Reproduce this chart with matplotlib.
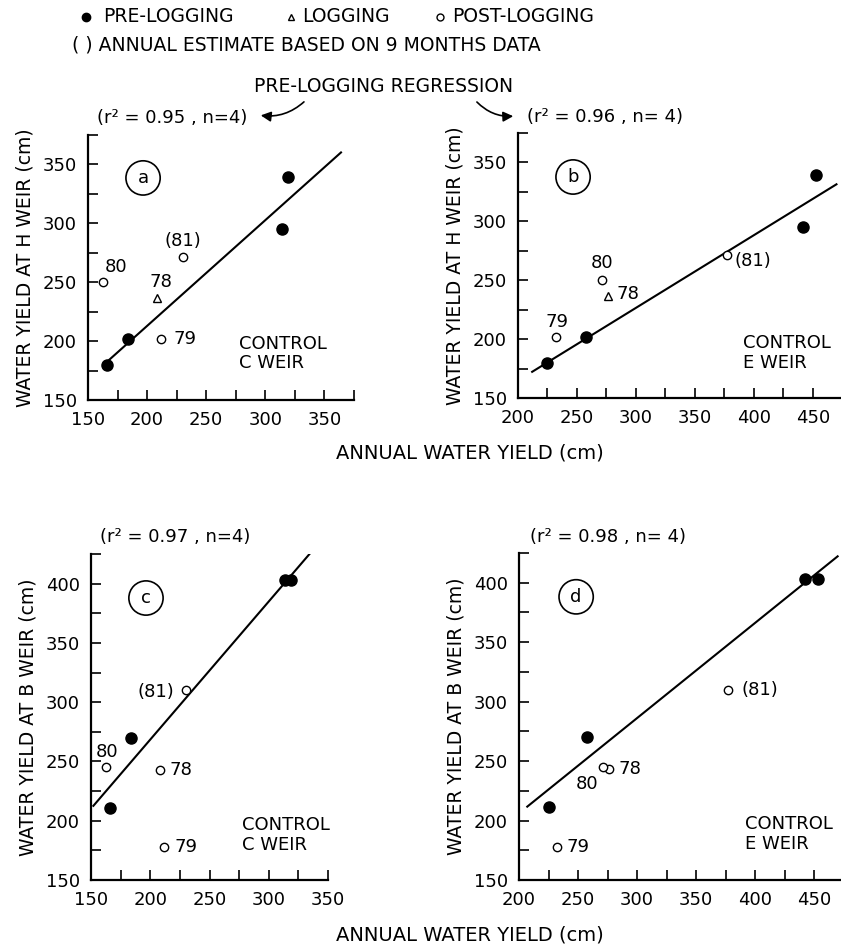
import matplotlib
matplotlib.use('Agg')
import matplotlib.pyplot as plt
from matplotlib.lines import Line2D
from matplotlib.ticker import MultipleLocator
import numpy as np

# pre-logging years (4), annual water yield (cm) at each weir
pre_C = [166, 184, 314, 319]
pre_E = [225, 258, 442, 453]
pre_H = [180, 202, 295, 339]
pre_B = [211, 270, 403, 403]

# logging / post-logging years
post_years = ['78', '79', '80', '(81)']
post_C = [208, 212, 163, 230]
post_E = [276, 232, 271, 377]
post_H = [237, 202, 250, 271]
post_B = [243, 178, 245, 310]

r2_text = ['(r² = 0.95 , n=4)', '(r² = 0.96 , n= 4)', '(r² = 0.97 , n=4)', '(r² = 0.98 , n= 4)']

plt.rcParams['font.family'] = 'DejaVu Sans'
fig = plt.figure(figsize=(8.41, 9.47), dpi=100)

W, H = 841., 947.


def axes_px(l, t, r, b):
    return fig.add_axes([l / W, 1 - b / H, (r - l) / W, (b - t) / H])


panels = [
    dict(box=(88, 135, 354, 400), x=pre_C, y=pre_H, px=post_C, py=post_H,
         xlim=(150, 375), ylim=(150, 375), letter='a', lpos=(0.207, 0.838),
         ctrl='CONTROL\nC WEIR', cpos=(0.568, 0.245), lx=(166, 364),
         tri=True,
         offs=[(4, 16, 'center'), (12, 0, 'left'), (1, 15, 'left'), (0, 16, 'center')]),
    dict(box=(518, 133, 840, 398), x=pre_E, y=pre_H, px=post_E, py=post_H,
         xlim=(200, 473), ylim=(150, 375), letter='b', lpos=(0.171, 0.834),
         ctrl='CONTROL\nE WEIR', cpos=(0.699, 0.240), lx=(212, 470),
         tri=True,
         offs=[(9, 2, 'left'), (1, 15, 'center'), (0, 17, 'center'), (8, -6, 'left')]),
    dict(box=(91, 554, 328, 880), x=pre_C, y=pre_B, px=post_C, py=post_B,
         xlim=(150, 350), ylim=(150, 425), letter='c', lpos=(0.232, 0.865),
         ctrl='CONTROL\nC WEIR', cpos=(0.637, 0.195), lx=(152, 336),
         tri=False,
         offs=[(10, 0, 'left'), (10, 0, 'left'), (1, 15, 'center'), (-12, -2, 'right')]),
    dict(box=(519, 553, 840, 880), x=pre_E, y=pre_B, px=post_E, py=post_B,
         xlim=(200, 472), ylim=(150, 425), letter='d', lpos=(0.178, 0.866),
         ctrl='CONTROL\nE WEIR', cpos=(0.704, 0.198), lx=(207, 470),
         tri=False,
         offs=[(10, 0, 'left'), (10, 0, 'left'), (-16, -17, 'center'), (14, 0, 'left')]),
]

ylabels = ['WATER YIELD AT H WEIR (cm)', 'WATER YIELD AT H WEIR (cm)',
           'WATER YIELD AT B WEIR (cm)', 'WATER YIELD AT B WEIR (cm)']

for i, p in enumerate(panels):
    ax = axes_px(*p['box'])
    for s in ['top', 'right']:
        ax.spines[s].set_visible(False)
    for s in ['left', 'bottom']:
        ax.spines[s].set_linewidth(1.6)
    ax.set_xlim(*p['xlim'])
    ax.set_ylim(*p['ylim'])
    ax.xaxis.set_major_locator(MultipleLocator(50))
    ax.xaxis.set_minor_locator(MultipleLocator(25))
    ax.yaxis.set_major_locator(MultipleLocator(50))
    ax.yaxis.set_minor_locator(MultipleLocator(25))
    ax.tick_params(which='both', direction='in', length=7, width=1.2, labelsize=13, pad=8)
    ax.set_ylabel(ylabels[i], fontsize=13.5, labelpad=6)

    # regression through pre-logging points
    k, b0 = np.polyfit(p['x'], p['y'], 1)
    xx = np.array(p['lx'])
    ax.plot(xx, k * xx + b0, color='black', lw=1.5, zorder=1)

    ax.plot(p['x'], p['y'], 'o', ms=8, color='black', zorder=3)
    for j, yr in enumerate(post_years):
        if j == 0 and p['tri']:
            ax.plot(p['px'][j], p['py'][j], '^', ms=6, mfc='white', mec='black', mew=1, zorder=3)
        else:
            ax.plot(p['px'][j], p['py'][j], 'o', ms=6, mfc='white', mec='black', mew=1, zorder=3)
        dx, dy, ha = p['offs'][j]
        ax.annotate(yr, (p['px'][j], p['py'][j]), xytext=(dx, dy),
                    textcoords='offset pixels', ha=ha, va='center', fontsize=13)

    ax.text(*p['lpos'], p['letter'], transform=ax.transAxes, ha='center', va='center',
            fontsize=13, bbox=dict(boxstyle='circle,pad=0.45', fc='white', ec='black', lw=1.2))
    ax.text(*p['cpos'], p['ctrl'], transform=ax.transAxes, ha='left', va='top',
            fontsize=13, linespacing=1.1)

# r^2 texts above each panel
fig.text(97 / W, 1 - 118 / H, r2_text[0], fontsize=13, va='center', ha='left')
fig.text(527 / W, 1 - 117 / H, r2_text[1], fontsize=13, va='center', ha='left')
fig.text(100 / W, 1 - 537 / H, r2_text[2], fontsize=13, va='center', ha='left')
fig.text(530 / W, 1 - 537 / H, r2_text[3], fontsize=13, va='center', ha='left')

fig.text(384 / W, 1 - 87 / H, 'PRE-LOGGING REGRESSION', fontsize=13.5, ha='center', va='center')
fig.add_artist(matplotlib.patches.FancyArrowPatch(
    (306 / W, 1 - 100 / H), (258 / W, 1 - 115 / H), transform=fig.transFigure,
    connectionstyle='arc3,rad=-0.25', arrowstyle='-|>,head_length=6,head_width=3',
    color='black', lw=1.2))
fig.add_artist(matplotlib.patches.FancyArrowPatch(
    (475 / W, 1 - 100 / H), (516 / W, 1 - 116 / H), transform=fig.transFigure,
    connectionstyle='arc3,rad=0.25', arrowstyle='-|>,head_length=6,head_width=3',
    color='black', lw=1.2))

# legend header
fig.add_artist(Line2D([86 / W], [1 - 17 / H], marker='o', ms=6, color='black',
                      transform=fig.transFigure))
fig.text(103 / W, 1 - 17 / H, 'PRE-LOGGING', fontsize=13.5, va='center')
fig.add_artist(Line2D([291 / W], [1 - 17 / H], marker='^', ms=5, mfc='white', mec='black',
                      transform=fig.transFigure))
fig.text(302 / W, 1 - 17 / H, 'LOGGING', fontsize=13.5, va='center')
fig.add_artist(Line2D([440 / W], [1 - 17 / H], marker='o', ms=5, mfc='white', mec='black',
                      transform=fig.transFigure))
fig.text(452 / W, 1 - 17 / H, 'POST-LOGGING', fontsize=13.5, va='center')
fig.text(72 / W, 1 - 45 / H, '( ) ANNUAL ESTIMATE BASED ON 9 MONTHS DATA', fontsize=13.5, va='center')

fig.text(470 / W, 1 - 453 / H, 'ANNUAL WATER YIELD (cm)', fontsize=14, ha='center', va='center')
fig.text(470 / W, 1 - 935 / H, 'ANNUAL WATER YIELD (cm)', fontsize=14, ha='center', va='center')

fig.savefig('out.png', dpi=100, facecolor='white')
